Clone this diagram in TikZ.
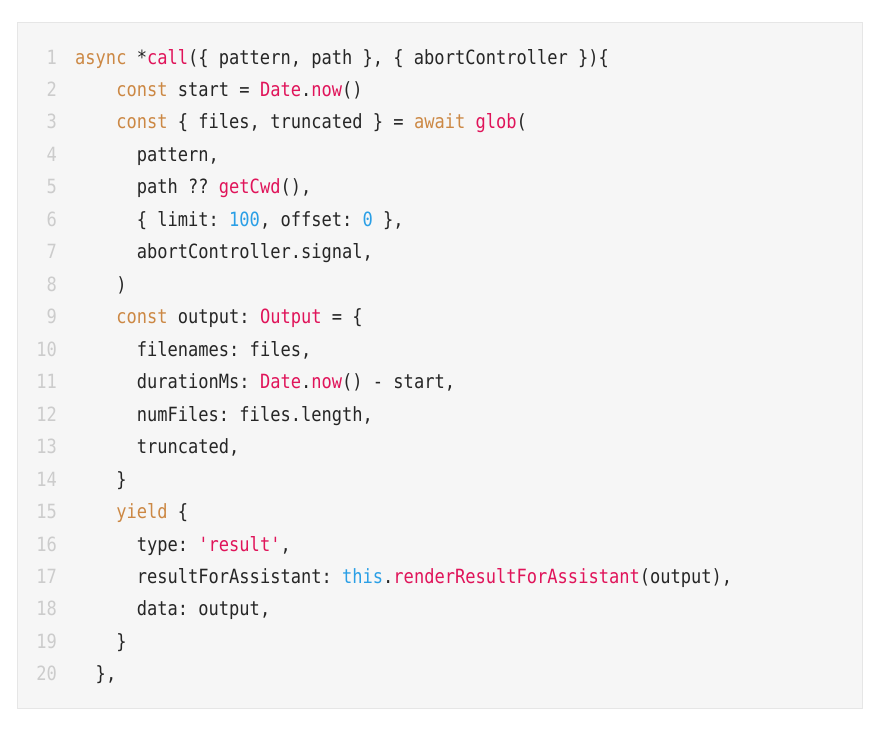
\documentclass[tikz,border=0pt]{standalone}
\usepackage{fontspec}
\setmonofont[FakeStretch=0.87]{DejaVu Sans Mono}
\usepackage{xcolor}

\definecolor{boxbg}{HTML}{F6F6F6}
\definecolor{boxline}{HTML}{E6E6E6}
\definecolor{txtc}{HTML}{262626}
\definecolor{lnoc}{HTML}{CCCCCC}
\definecolor{kwc}{HTML}{CC8844}
\definecolor{fnc}{HTML}{E0145A}
\definecolor{numc}{HTML}{2A9FE6}

\newcommand{\kwd}[1]{\textcolor{kwc}{#1}}
\newcommand{\fnc}[1]{\textcolor{fnc}{#1}}
\newcommand{\numb}[1]{\textcolor{numc}{#1}}

\begin{document}
\begin{tikzpicture}[x=1pt,y=-1pt,
        code/.style={anchor=base west,inner sep=0pt,text=txtc,font=\ttfamily\fontsize{19.6}{20}\selectfont},
        lno/.style={anchor=base east,inner sep=0pt,text=lnoc,font=\ttfamily\fontsize{19.6}{20}\selectfont}]
        \def\cw{10.27}
        \def\lh{32.47}
        \useasboundingbox (0,0) rectangle (889,736);
        \draw[draw=boxline,fill=boxbg] (17,22) rectangle (862,708);

        % line numbers
        \foreach \k in {1,...,20}
            \node[lno] (n\k) at (57,{64+(\k-1)*\lh}) {\k};

        % code lines
        \node[code] (l1)  at (75+0*\cw, 64+0*\lh)  {\kwd{async} *\fnc{call}(\{ pattern, path \}, \{ abortController \})\{};
        \node[code] (l2)  at (75+4*\cw, 64+1*\lh)  {\kwd{const} start = \fnc{Date}.\fnc{now}()};
        \node[code] (l3)  at (75+4*\cw, 64+2*\lh)  {\kwd{const} \{ files, truncated \} = \kwd{await} \fnc{glob}(};
        \node[code] (l4)  at (75+6*\cw, 64+3*\lh)  {pattern,};
        \node[code] (l5)  at (75+6*\cw, 64+4*\lh)  {path ?? \fnc{getCwd}(),};
        \node[code] (l6)  at (75+6*\cw, 64+5*\lh)  {\{ limit: \numb{100}, offset: \numb{0} \},};
        \node[code] (l7)  at (75+6*\cw, 64+6*\lh)  {abortController.signal,};
        \node[code] (l8)  at (75+4*\cw, 64+7*\lh)  {)};
        \node[code] (l9)  at (75+4*\cw, 64+8*\lh)  {\kwd{const} output: \fnc{Output} = \{};
        \node[code] (l10) at (75+6*\cw, 64+9*\lh)  {filenames: files,};
        \node[code] (l11) at (75+6*\cw, 64+10*\lh) {durationMs: \fnc{Date}.\fnc{now}() - start,};
        \node[code] (l12) at (75+6*\cw, 64+11*\lh) {numFiles: files.length,};
        \node[code] (l13) at (75+6*\cw, 64+12*\lh) {truncated,};
        \node[code] (l14) at (75+4*\cw, 64+13*\lh) {\}};
        \node[code] (l15) at (75+4*\cw, 64+14*\lh) {\kwd{yield} \{};
        \node[code] (l16) at (75+6*\cw, 64+15*\lh) {type: \fnc{'result'},};
        \node[code] (l17) at (75+6*\cw, 64+16*\lh) {resultForAssistant: \numb{this}.\fnc{renderResultForAssistant}(output),};
        \node[code] (l18) at (75+6*\cw, 64+17*\lh) {data: output,};
        \node[code] (l19) at (75+4*\cw, 64+18*\lh) {\}};
        \node[code] (l20) at (75+2*\cw, 64+19*\lh) {\},};
    \end{tikzpicture}
\end{document}
